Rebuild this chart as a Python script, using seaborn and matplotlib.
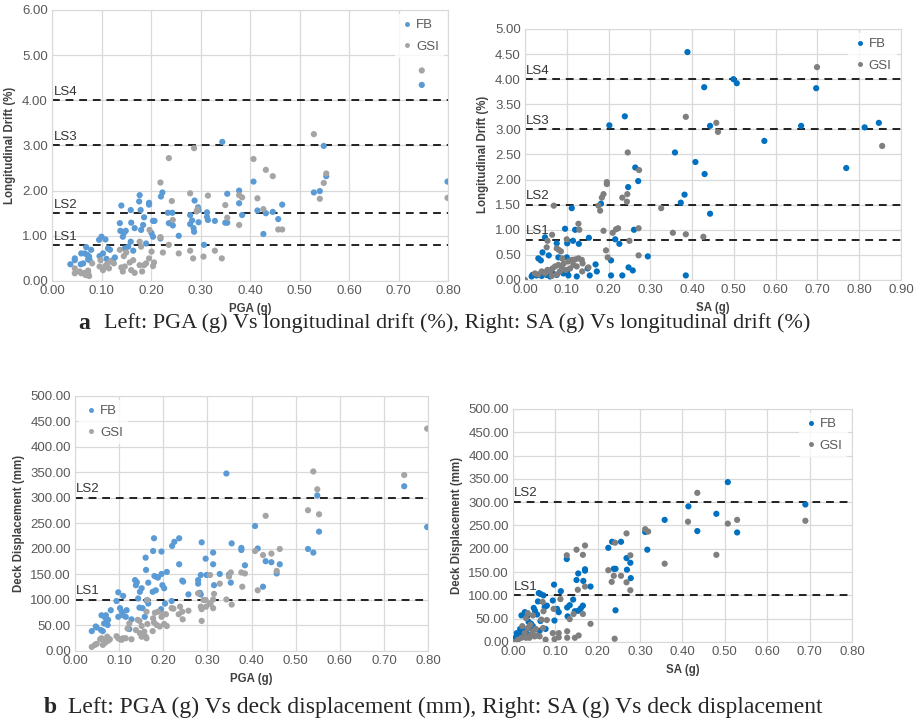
import pandas as pd
import numpy as np
import matplotlib
matplotlib.use('Agg')
import matplotlib.pyplot as plt
import seaborn as sns

sns.set_style('white')
plt.rcParams['font.family'] = ['Liberation Sans', 'DejaVu Sans']

#---------------------------------------- DATA ----------------------------------------#
# a-left : PGA (g) vs longitudinal drift (%)
a1_fb_x = [0.037, 0.046, 0.046, 0.058, 0.063, 0.059, 0.066, 0.069, 0.071, 0.075, 0.076, 0.079, 0.073,
           0.095, 0.100, 0.108, 0.096, 0.103, 0.110, 0.113, 0.117, 0.123, 0.127, 0.137, 0.138, 0.140,
           0.143, 0.145, 0.149, 0.147, 0.154, 0.159, 0.160, 0.159, 0.164, 0.167, 0.177, 0.176, 0.179,
           0.180, 0.184, 0.186, 0.190, 0.196, 0.196, 0.201, 0.204, 0.204, 0.207, 0.220, 0.223, 0.219,
           0.234, 0.243, 0.236, 0.244, 0.256, 0.279, 0.283, 0.279, 0.286, 0.287, 0.288, 0.295, 0.296,
           0.296, 0.307, 0.313, 0.313, 0.315, 0.329, 0.344, 0.350, 0.354, 0.354, 0.378, 0.378, 0.384,
           0.407, 0.415, 0.427, 0.432, 0.446, 0.457, 0.465, 0.529, 0.541, 0.549, 0.554, 0.747, 0.799]
a1_fb_y = [0.37, 0.46, 0.50, 0.37, 0.39, 0.61, 0.61, 0.75, 0.58, 0.54, 0.46, 0.69, 0.48,
           0.91, 0.98, 0.92, 0.55, 0.61, 0.49, 0.72, 0.69, 0.46, 0.52, 1.28, 1.11, 1.67,
           0.98, 1.06, 1.11, 0.72, 0.76, 1.57, 1.29, 0.87, 0.67, 1.17, 1.90, 1.76, 1.57,
           1.13, 1.24, 1.41, 0.83, 1.73, 1.69, 1.06, 0.98, 1.33, 1.33, 1.87, 1.96, 0.94,
           1.51, 1.51, 1.28, 1.23, 1.00, 1.46, 1.34, 1.26, 1.17, 1.09, 1.78, 1.63, 1.30,
           1.57, 0.80, 1.52, 1.42, 1.35, 1.33, 3.08, 1.29, 1.29, 1.93, 2.00, 1.72, 1.46,
           2.20, 1.56, 1.04, 1.50, 1.53, 1.37, 1.69, 1.96, 1.99, 2.99, 2.32, 4.34, 2.20]
a1_gsi_x = [0.046, 0.046, 0.056, 0.059, 0.066, 0.068, 0.073, 0.075, 0.073, 0.081, 0.096, 0.098, 0.103,
            0.108, 0.111, 0.115, 0.118, 0.125, 0.137, 0.140, 0.143, 0.147, 0.145, 0.150, 0.157, 0.160,
            0.164, 0.167, 0.177, 0.177, 0.180, 0.182, 0.186, 0.190, 0.196, 0.197, 0.201, 0.204, 0.206,
            0.219, 0.219, 0.224, 0.236, 0.236, 0.242, 0.244, 0.256, 0.279, 0.279, 0.285, 0.287, 0.292,
            0.294, 0.306, 0.315, 0.329, 0.343, 0.350, 0.354, 0.378, 0.378, 0.384, 0.407, 0.415, 0.427,
            0.432, 0.446, 0.457, 0.465, 0.529, 0.541, 0.549, 0.554, 0.747, 0.799]
a1_gsi_y = [0.28, 0.17, 0.21, 0.17, 0.18, 0.13, 0.23, 0.11, 0.17, 0.39, 0.32, 0.46, 0.24,
            0.33, 0.37, 0.28, 0.43, 0.39, 0.69, 0.30, 0.21, 0.32, 0.55, 0.63, 0.41, 0.24,
            0.46, 0.18, 0.87, 0.35, 0.76, 0.21, 0.35, 0.39, 0.50, 1.13, 0.65, 0.33, 0.41,
            2.18, 0.97, 0.63, 2.72, 0.80, 1.77, 1.35, 0.61, 1.94, 0.67, 0.50, 2.94, 1.54,
            1.59, 0.54, 1.89, 0.67, 0.50, 1.68, 1.40, 1.90, 1.24, 1.85, 2.70, 1.83, 1.59,
            2.46, 2.32, 1.14, 1.14, 3.25, 1.82, 2.17, 2.38, 4.66, 1.84]

# a-right : SA (g) vs longitudinal drift (%)
a2_fb_x = [0.389, 0.499, 0.507, 0.429, 0.697, 0.239, 0.202, 0.443, 0.661, 0.813, 0.847, 0.573, 0.359,
           0.408, 0.264, 0.769, 0.430, 0.271, 0.247, 0.382, 0.373, 0.182, 0.112, 0.443, 0.096, 0.120,
           0.261, 0.048, 0.153, 0.216, 0.115, 0.101, 0.129, 0.226, 0.076, 0.042, 0.032, 0.038, 0.057,
           0.080, 0.100, 0.294, 0.206, 0.169, 0.150, 0.172, 0.248, 0.258, 0.206, 0.233, 0.155, 0.124,
           0.104, 0.385, 0.016, 0.018, 0.028, 0.040, 0.052, 0.060, 0.068, 0.076, 0.084, 0.092, 0.101,
           0.056, 0.044]
a2_fb_y = [4.54, 4.00, 3.92, 3.84, 3.82, 3.26, 3.08, 3.07, 3.07, 3.04, 3.13, 2.77, 2.54,
           2.35, 2.24, 2.23, 2.11, 1.97, 1.85, 1.70, 1.54, 1.52, 1.43, 1.32, 1.02, 1.00,
           1.00, 0.85, 0.84, 0.81, 0.78, 0.73, 0.72, 0.72, 0.73, 0.55, 0.43, 0.39, 0.49,
           0.45, 0.45, 0.47, 0.39, 0.31, 0.23, 0.17, 0.25, 0.19, 0.09, 0.09, 0.09, 0.07,
           0.09, 0.09, 0.07, 0.10, 0.09, 0.08, 0.10, 0.07, 0.12, 0.10, 0.17, 0.13, 0.17,
           0.19, 0.15]
a2_gsi_x = [0.699, 0.385, 0.458, 0.462, 0.855, 0.246, 0.273, 0.196, 0.196, 0.188, 0.184, 0.245, 0.233,
            0.244, 0.069, 0.176, 0.180, 0.326, 0.128, 0.130, 0.188, 0.210, 0.218, 0.223, 0.272, 0.354,
            0.385, 0.427, 0.065, 0.054, 0.100, 0.250, 0.052, 0.076, 0.081, 0.086, 0.194, 0.198, 0.272,
            0.089, 0.024, 0.032, 0.040, 0.048, 0.054, 0.060, 0.066, 0.072, 0.080, 0.088, 0.093, 0.104,
            0.112, 0.120, 0.128, 0.136, 0.138, 0.116, 0.108, 0.124, 0.098, 0.084, 0.076, 0.064, 0.000,
            0.137, 0.152]
a2_gsi_y = [4.24, 3.25, 3.13, 2.95, 2.67, 2.54, 2.19, 1.95, 1.91, 1.71, 1.64, 1.71, 1.64,
            1.56, 1.48, 1.48, 1.38, 1.43, 1.12, 1.00, 0.98, 0.94, 1.01, 1.03, 1.03, 0.94,
            0.91, 0.86, 0.90, 0.78, 0.81, 0.78, 0.65, 0.63, 0.60, 0.57, 0.59, 0.45, 0.49,
            0.43, 0.13, 0.11, 0.17, 0.13, 0.20, 0.17, 0.23, 0.27, 0.30, 0.27, 0.33, 0.37,
            0.40, 0.41, 0.43, 0.40, 0.33, 0.30, 0.23, 0.27, 0.20, 0.17, 0.11, 0.08, 0.00,
            0.17, 0.25]

# b-left : PGA (g) vs deck displacement (mm)
b1_fb_x = [0.038, 0.047, 0.049, 0.059, 0.063, 0.060, 0.066, 0.068, 0.070, 0.072, 0.074, 0.075, 0.081,
           0.098, 0.094, 0.098, 0.102, 0.106, 0.109, 0.109, 0.115, 0.117, 0.123, 0.128, 0.136, 0.138,
           0.140, 0.143, 0.146, 0.147, 0.151, 0.153, 0.158, 0.160, 0.161, 0.162, 0.166, 0.166, 0.176,
           0.177, 0.179, 0.180, 0.183, 0.185, 0.188, 0.195, 0.196, 0.196, 0.198, 0.202, 0.204, 0.208,
           0.219, 0.220, 0.225, 0.236, 0.236, 0.243, 0.245, 0.257, 0.279, 0.279, 0.283, 0.285, 0.287,
           0.285, 0.296, 0.298, 0.306, 0.313, 0.313, 0.315, 0.328, 0.343, 0.349, 0.353, 0.355, 0.377,
           0.377, 0.385, 0.408, 0.414, 0.426, 0.432, 0.445, 0.457, 0.464, 0.528, 0.540, 0.549, 0.553,
           0.746, 0.798]
b1_fb_y = [39, 48, 46, 41, 39, 70, 54, 66, 70, 62, 51, 61, 80,
           115, 98, 67, 84, 77, 108, 70, 67, 80, 43, 62, 139, 129,
           135, 103, 85, 116, 123, 84, 67, 183, 159, 99, 134, 93, 116,
           196, 221, 147, 119, 145, 144, 82, 195, 151, 129, 123, 93, 155,
           98, 206, 214, 221, 170, 138, 136, 111, 139, 132, 114, 111, 213,
           149, 181, 149, 93, 193, 170, 129, 151, 348, 150, 134, 211, 202,
           198, 168, 245, 201, 126, 176, 174, 152, 170, 200, 193, 305, 234,
           323, 243]
b1_gsi_x = [0.038, 0.045, 0.049, 0.057, 0.060, 0.063, 0.068, 0.070, 0.073, 0.075, 0.079, 0.094, 0.098,
            0.102, 0.106, 0.109, 0.115, 0.119, 0.123, 0.128, 0.138, 0.142, 0.146, 0.147, 0.151, 0.151,
            0.157, 0.160, 0.162, 0.164, 0.162, 0.164, 0.176, 0.177, 0.179, 0.181, 0.185, 0.188, 0.192,
            0.196, 0.200, 0.202, 0.206, 0.208, 0.219, 0.223, 0.235, 0.238, 0.243, 0.244, 0.257, 0.279,
            0.285, 0.287, 0.287, 0.291, 0.296, 0.297, 0.306, 0.307, 0.313, 0.313, 0.315, 0.328, 0.343,
            0.349, 0.353, 0.355, 0.377, 0.385, 0.379, 0.408, 0.414, 0.426, 0.432, 0.445, 0.457, 0.464,
            0.528, 0.540, 0.549, 0.553, 0.746, 0.798]
b1_gsi_y = [8, 12, 14, 23, 25, 12, 16, 22, 28, 20, 23, 29, 25,
            23, 22, 25, 25, 44, 54, 23, 41, 61, 59, 35, 28, 49,
            38, 28, 77, 53, 25, 100, 39, 64, 56, 75, 51, 77, 48,
            67, 72, 53, 72, 49, 84, 83, 72, 87, 77, 62, 79, 113,
            87, 82, 59, 100, 100, 87, 149, 93, 101, 84, 112, 132, 101,
            146, 154, 91, 154, 152, 126, 196, 119, 188, 265, 191, 157, 200,
            276, 352, 317, 268, 345, 436]

# b-right : SA (g) vs deck displacement (mm)
b2_fb_x = [0.507, 0.414, 0.690, 0.480, 0.358, 0.435, 0.529, 0.312, 0.317, 0.225, 0.234, 0.255, 0.268,
           0.277, 0.269, 0.238, 0.242, 0.278, 0.127, 0.170, 0.170, 0.154, 0.150, 0.166, 0.183, 0.097,
           0.113, 0.061, 0.065, 0.072, 0.094, 0.059, 0.142, 0.080, 0.075, 0.134, 0.128, 0.165, 0.160,
           0.154, 0.146, 0.104, 0.108, 0.049, 0.052, 0.028, 0.020, 0.057, 0.242, 0.129, 0.098, 0.065,
           0.033, 0.037, 0.043, 0.063, 0.077, 0.014, 0.020, 0.012, 0.028, 0.031, 0.039, 0.047, 0.006,
           0.024, 0.035, 0.017, 0.009]
b2_fb_y = [343, 291, 295, 275, 262, 238, 235, 236, 198, 202, 215, 215, 180,
           170, 155, 157, 157, 137, 178, 156, 153, 147, 133, 131, 119, 123,
           109, 105, 103, 100, 89, 87, 91, 78, 75, 79, 74, 78, 72,
           67, 66, 71, 64, 73, 67, 64, 57, 59, 68, 55, 46, 45,
           54, 43, 39, 24, 28, 18, 23, 12, 19, 26, 30, 34, 9,
           12, 16, 28, 19]
b2_gsi_x = [0.435, 0.413, 0.507, 0.529, 0.690, 0.480, 0.358, 0.312, 0.319, 0.268, 0.241, 0.277, 0.225,
            0.238, 0.255, 0.233, 0.268, 0.277, 0.240, 0.170, 0.150, 0.165, 0.127, 0.153, 0.170, 0.112,
            0.070, 0.096, 0.072, 0.080, 0.067, 0.134, 0.143, 0.165, 0.183, 0.094, 0.108, 0.128, 0.155,
            0.108, 0.098, 0.077, 0.128, 0.146, 0.057, 0.047, 0.041, 0.031, 0.035, 0.047, 0.022, 0.028,
            0.020, 0.012, 0.000, 0.039, 0.051, 0.063, 0.071, 0.031, 0.043, 0.054, 0.035]
b2_gsi_y = [320, 258, 254, 262, 260, 187, 168, 242, 237, 233, 213, 186, 154,
            142, 142, 129, 128, 111, 7, 207, 198, 187, 186, 112, 119, 92,
            86, 71, 66, 47, 48, 49, 60, 60, 39, 19, 19, 23, 14,
            10, 6, 5, 9, 9, 14, 23, 37, 51, 62, 57, 34, 19,
            9, 5, 0, 9, 12, 12, 30, 9, 16, 28, 30]

ls_drift = {'LS1': 0.8, 'LS2': 1.5, 'LS3': 3.0, 'LS4': 4.0}
ls_disp = {'LS1': 100, 'LS2': 300}


def make_df(fb_x, fb_y, gsi_x, gsi_y):
    d1 = pd.DataFrame({'x': fb_x, 'y': fb_y, 'series': 'FB'})
    d2 = pd.DataFrame({'x': gsi_x, 'y': gsi_y, 'series': 'GSI'})
    return pd.concat([d1, d2], ignore_index=True)


def draw(ax, df, colors, xmax, xstep, ymax, ystep, xlabel, ylabel, levels, label_dy, leg_loc):
    sns.scatterplot(data=df, x='x', y='y', hue='series', palette=colors, s=20,
                    edgecolor='none', ax=ax, zorder=3)
    for name, v in levels.items():
        ax.axhline(v, color='#222222', lw=1.4, ls=(0, (4, 3)), zorder=2)
        ax.text(0.003 * xmax / 0.8, v + label_dy, name, fontsize=9.5, color='#333333', va='bottom')
    ax.set_xlim(0, xmax)
    ax.set_ylim(0, ymax)
    ax.set_xticks(np.arange(0, xmax + 1e-9, xstep))
    ax.set_yticks(np.arange(0, ymax + 1e-9, ystep))
    ax.xaxis.set_major_formatter(plt.FormatStrFormatter('%.2f'))
    ax.yaxis.set_major_formatter(plt.FormatStrFormatter('%.2f'))
    ax.grid(True, color='#d9d9d9', lw=0.9, zorder=0)
    ax.set_axisbelow(True)
    ax.tick_params(labelsize=9.5, labelcolor='#595959', length=0, pad=3)
    for sp in ax.spines.values():
        sp.set_color('#d9d9d9')
    ax.set_xlabel(xlabel, fontsize=8.3, fontweight='bold', color='#404040')
    ax.set_ylabel(ylabel, fontsize=8.3, fontweight='bold', color='#404040')
    leg = ax.legend(loc=leg_loc, frameon=True, fontsize=9.5, markerscale=0.8, handletextpad=0.2,
                    borderaxespad=0.3, labelspacing=0.7, handlelength=1.0)
    leg.get_frame().set_edgecolor('none')
    for t in leg.get_texts():
        t.set_color('#595959')


fig = plt.figure(figsize=(9.16, 7.21), dpi=100)

light = {'FB': '#5b9bd5', 'GSI': '#a5a5a5'}
dark = {'FB': '#0070c0', 'GSI': '#7f7f7f'}

ax1 = fig.add_axes([0.0568, 0.6103, 0.4323, 0.3759])
draw(ax1, make_df(a1_fb_x, a1_fb_y, a1_gsi_x, a1_gsi_y), light, 0.8, 0.1, 6.0, 1.0,
     'PGA (g)', 'Longitudinal Drift (%)', ls_drift, 0.05, 'upper right')

ax2 = fig.add_axes([0.5731, 0.6117, 0.4105, 0.3481])
draw(ax2, make_df(a2_fb_x, a2_fb_y, a2_gsi_x, a2_gsi_y), dark, 0.9, 0.1, 5.0, 0.5,
     'SA (g)', 'Longitudinal Drift (%)', ls_drift, 0.05, 'upper right')

ax3 = fig.add_axes([0.0819, 0.0971, 0.3854, 0.3537])
draw(ax3, make_df(b1_fb_x, b1_fb_y, b1_gsi_x, b1_gsi_y), light, 0.8, 0.1, 500, 50,
     'PGA (g)', 'Deck Displacement (mm)', ls_disp, 6, 'upper left')

ax4 = fig.add_axes([0.5600, 0.1096, 0.3701, 0.3232])
draw(ax4, make_df(b2_fb_x, b2_fb_y, b2_gsi_x, b2_gsi_y), dark, 0.8, 0.1, 500, 50,
     'SA (g)', 'Deck Displacement (mm)', ls_disp, 6, 'upper right')

serif = ['Liberation Serif', 'DejaVu Serif']
fig.text(0.085, 0.552, 'a', fontsize=17, fontweight='bold', family=serif, va='center')
fig.text(0.113, 0.552, 'Left: PGA (g) Vs longitudinal drift (%), Right: SA (g) Vs longitudinal drift (%)',
         fontsize=16, family=serif, va='center')
fig.text(0.048, 0.019, 'b', fontsize=17, fontweight='bold', family=serif, va='center')
fig.text(0.074, 0.019, 'Left: PGA (g) Vs deck displacement (mm), Right: SA (g) Vs deck displacement',
         fontsize=17, family=serif, va='center')

fig.savefig('out.png', dpi=100)
